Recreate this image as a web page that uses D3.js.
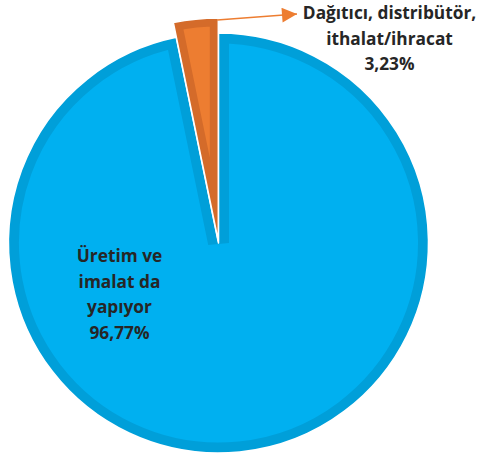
<!DOCTYPE html>
<html>
<head>
<meta charset="utf-8">
<script src="https://cdn.jsdelivr.net/npm/d3@7"></script>
<style>
  html, body { margin: 0; padding: 0; background: #fff; }
  svg { display: block; }
  text { font-family: "Open Sans", Lato, sans-serif; font-weight: bold; fill: #262626; }
</style>
</head>
<body>
<svg id="chart" width="478" height="461"></svg>
<script>
const categories = ['Üretim ve imalat da yapıyor', 'Dağıtıcı, distribütör, ithalat/ihracat'];
const values = [96.77, 3.23];
const labelLines = [['Üretim ve', 'imalat da', 'yapıyor'], ['Dağıtıcı, distribütör,', 'ithalat/ihracat']];
const pctLabels = ['96,77%', '3,23%'];
const fills = ['#00b0f0', '#ed7d31'];
const bands = ['#009fd9', '#d46b2a'];

const width = 478, height = 461;
const cx = 218.5, cy = 243, radius = 210;

const svg = d3.select('#chart');
const g = svg.append('g').attr('transform', `translate(${cx},${cy})`);

const pie = d3.pie().sort(null).value(d => d);
const arcs = pie(values);

// orange slice is pulled out a bit and drawn larger, like the excel one
const arcFor = i => d3.arc().innerRadius(0).outerRadius(i === 1 ? radius + 13 : radius);
const explode = i => {
  if (i !== 1) return [0, 0];
  const a = (arcs[i].startAngle + arcs[i].endAngle) / 2;
  return [Math.sin(a) * 2, -Math.cos(a) * 2];
};

const defs = svg.append('defs');
defs.append('marker')
  .attr('id', 'arrow')
  .attr('viewBox', '0 0 10 10')
  .attr('refX', 10).attr('refY', 5)
  .attr('markerUnits', 'userSpaceOnUse')
  .attr('markerWidth', 17).attr('markerHeight', 15)
  .attr('orient', 'auto')
  .append('path').attr('d', 'M0,0L10,5L0,10Z').attr('fill', fills[1]);

arcs.forEach((d, i) => {
  const [dx, dy] = explode(i);
  const path = arcFor(i)(d);
  defs.append('clipPath').attr('id', 'clip' + i)
    .append('path').attr('d', path);
  const sg = g.append('g').attr('transform', `translate(${dx},${dy})`);
  sg.append('path')
    .attr('d', path)
    .attr('fill', fills[i])
    .attr('stroke', bands[i])
    .attr('stroke-width', i === 1 ? 17 : 21)
    .attr('clip-path', `url(#clip${i})`);
  sg.append('path')
    .attr('d', path)
    .attr('fill', 'none')
    .attr('stroke', '#fff')
    .attr('stroke-width', 1.5)
    .attr('stroke-linejoin', 'round');
});

// leader line from the small slice to its label
const o = arcs[1];
const [ox, oy] = explode(1);
const la = o.endAngle - 0.005;
const lr = radius + 11;
svg.append('line')
  .attr('x1', cx + ox + Math.sin(la) * lr)
  .attr('y1', cy + oy - Math.cos(la) * lr)
  .attr('x2', 297).attr('y2', 14)
  .attr('stroke', fills[1])
  .attr('stroke-width', 1.3)
  .attr('marker-end', 'url(#arrow)');

// labels
const labelPos = [[119.5, 262], [389.5, 19]];
const lineH = 25.5;
arcs.forEach((d, i) => {
  const lines = labelLines[i].concat([pctLabels[i]]);
  const t = svg.append('text')
    .attr('text-anchor', 'middle')
    .attr('font-size', 17.3);
  lines.forEach((s, j) => {
    t.append('tspan')
      .attr('x', labelPos[i][0])
      .attr('y', labelPos[i][1] + j * lineH)
      .text(s);
  });
});
</script>
</body>
</html>
